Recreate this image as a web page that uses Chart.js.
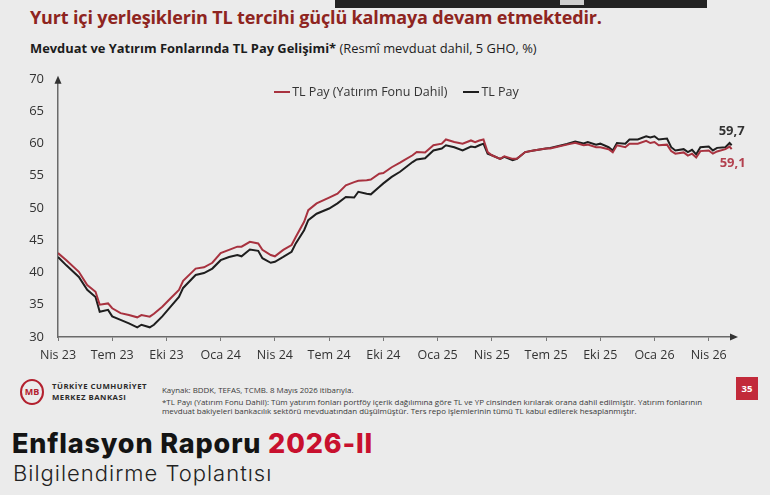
<!DOCTYPE html>
<html lang="tr">
<head>
<meta charset="utf-8">
<script src="https://cdn.jsdelivr.net/npm/chart.js@4.4.1/dist/chart.umd.min.js"></script>
<style>
  html, body { margin:0; padding:0; }
  body { width:770px; height:495px; overflow:hidden; position:relative;
         background:#ebebeb; font-family:'Open Sans', sans-serif; }
  .abs { position:absolute; white-space:nowrap; }
  #topbar { left:335px; top:0; width:372px; height:8px; background:#232323; }
  #topbar i { position:absolute; left:225px; top:0; width:24px; height:5px; background:#cfcfcf; }
  #title { left:30px; top:5px; font-size:18px; font-weight:700; color:#8e2420; letter-spacing:-0.15px; }
  #sub { left:30px; top:39px; font-size:12.9px; color:#1c1c1c; }
  #sub b { font-weight:700; }
  #chartWrap { left:0; top:57px; width:770px; height:313px; }
  #legend { left:0; top:83px; width:793px; text-align:center; font-size:12.5px; color:#333; }
  #legend span.it { display:inline-block; margin:0 8px; }
  #legend span.ln { display:inline-block; width:16px; height:2px; vertical-align:middle; margin-right:2px; position:relative; top:-1px; }
  #logo { left:20px; top:379px; width:20px; height:22px; border:2px solid #b3202e; border-radius:50%;
          color:#b3202e; font-size:9px; font-weight:700; text-align:center; line-height:22px; }
  #bank { left:52px; top:381px; font-size:7.8px; font-weight:700; color:#2a2a2a; line-height:11px; letter-spacing:0.5px; }
  #src { left:162px; top:385px; font-size:7.9px; color:#3a3a3a; }
  #note { left:162px; top:398px; font-size:7.95px; color:#3a3a3a; line-height:9px; }
  #page { left:736px; top:377px; width:22px; height:23px; background:#c22a3a; color:#fff;
          font-size:9.5px; font-weight:700; text-align:center; line-height:23px; }
  #er { left:12px; top:427px; font-family:Inter, sans-serif; font-size:27px; font-weight:800; color:#141414; letter-spacing:0.85px; }
  #er span { color:#c8102e; }
  #bt { left:13px; top:460px; font-family:Inter, sans-serif; font-size:22px; font-weight:300; color:#222; letter-spacing:1px; }
</style>
</head>
<body>
<div id="topbar" class="abs"><i></i></div>
<div id="title" class="abs">Yurt içi yerleşiklerin TL tercihi güçlü kalmaya devam etmektedir.</div>
<div id="sub" class="abs"><b>Mevduat ve Yatırım Fonlarında TL Pay Gelişimi*</b> (Resmî mevduat dahil, 5 GHO, %)</div>
<div id="chartWrap" class="abs"><canvas id="c" width="770" height="313"></canvas></div>
<div id="legend" class="abs"></div>
<div id="logo" class="abs">MB</div>
<div id="bank" class="abs">TÜRKİYE CUMHURİYET<br>MERKEZ BANKASI</div>
<div id="src" class="abs">Kaynak: BDDK, TEFAS, TCMB. 8 Mayıs 2026 itibarıyla.</div>
<div id="note" class="abs">*TL Payı (Yatırım Fonu Dahil): Tüm yatırım fonları portföy içerik dağılımına göre TL ve YP cinsinden kırılarak orana dahil edilmiştir. Yatırım fonlarının<br>mevduat bakiyeleri bankacılık sektörü mevduatından düşülmüştür. Ters repo işlemlerinin tümü TL kabul edilerek hesaplanmıştır.</div>
<div id="page" class="abs">35</div>
<div id="er" class="abs">Enflasyon Raporu <span>2026-II</span></div>
<div id="bt" class="abs">Bilgilendirme Toplantısı</div>

<script>
// weeks since early April 2023
const weeks = [0,2,5,7,9,10,12,13,15,17,19,20,22,23,25,27,29,30,33,35,37,39,41,43,44,46,48,49,51,52,54,56,57,59,60,62,65,67,69,71,72,74,75,77,78,80,82,83,85,86,88,90,92,93,95,97,99,100,101,102,103,104,106,107,109,110,112,114,117,118,120,122,124,126,127,129,130,132,133,134,136,137,139,141,142,143,144,146,147,148,150,151,152,153,154,156,157,158,160,161,161.5];

// TL Pay (Yatırım Fonu Dahil)
const tlPayFund = [43.0,41.9,40.1,38.05,37.0,35.0,35.2,34.45,33.7,33.4,33.05,33.4,33.15,33.6,34.7,36.0,37.3,38.7,40.6,40.8,41.5,43.0,43.5,44.0,44.0,44.75,44.5,43.5,42.7,42.5,43.5,44.25,45.5,47.85,49.65,50.7,51.6,52.2,53.5,54.0,54.2,54.3,54.4,55.3,55.4,56.3,57.0,57.4,58.15,58.65,58.6,59.7,59.95,60.6,60.2,59.95,60.45,60.2,60.45,60.6,58.65,58.15,57.6,58.0,57.6,57.6,58.65,58.9,59.2,59.2,59.5,59.8,60.1,59.7,59.8,59.4,59.4,59.1,58.6,59.7,59.4,59.95,59.95,60.4,60.05,60.2,59.7,59.8,58.8,58.4,58.6,58.1,58.4,57.8,58.8,58.9,58.4,58.75,59.1,59.5,59.1];

// TL Pay
const tlPay = [42.4,41.1,39.3,37.3,36.2,33.9,34.2,33.2,32.65,32.1,31.5,31.9,31.5,31.9,33.2,34.7,36.2,37.6,39.6,39.9,40.6,41.9,42.4,42.7,42.5,43.55,43.35,42.2,41.5,41.65,42.4,43.2,44.5,46.55,48.1,49.1,49.9,50.7,51.7,51.6,52.5,52.2,52.1,53.25,53.8,54.8,55.6,56.1,57.1,57.5,57.7,58.9,59.2,59.7,59.4,58.9,59.5,59.4,59.7,59.95,58.4,58.15,57.6,57.9,57.4,57.6,58.65,58.9,59.2,59.3,59.6,59.9,60.3,60.0,60.2,59.8,59.95,59.4,58.9,60.05,59.95,60.6,60.6,61.1,60.9,61.1,60.6,60.75,59.4,58.9,59.1,58.65,59.0,58.3,59.4,59.5,58.9,59.3,59.4,60.05,59.7];

const tickLabels = ['Nis 23','Tem 23','Eki 23','Oca 24','Nis 24','Tem 24','Eki 24','Oca 25','Nis 25','Tem 25','Eki 25','Oca 26','Nis 26'];
const tickWeeks = [0,13,26,39,52,65,78,91,104,117,130,143,156];
const seriesNames = ['TL Pay (Yatırım Fonu Dahil)','TL Pay'];
const seriesColors = ['#a8323f','#1e1e1e'];

const toXY = (arr) => arr.map((v,i) => ({x: weeks[i], y: v}));

// legend
const lg = document.getElementById('legend');
seriesNames.forEach((n,i) => {
  const s = document.createElement('span'); s.className='it';
  const l = document.createElement('span'); l.className='ln'; l.style.background = seriesColors[i];
  s.appendChild(l); s.appendChild(document.createTextNode(n)); lg.appendChild(s);
});

const arrows = {
  id:'arrows',
  afterDraw(chart){
    const {ctx, chartArea:a} = chart;
    ctx.save(); ctx.fillStyle = '#333';
    ctx.beginPath(); ctx.moveTo(a.left, a.top-3); ctx.lineTo(a.left-3.5, a.top+5); ctx.lineTo(a.left+3.5, a.top+5); ctx.closePath(); ctx.fill();
    ctx.beginPath(); ctx.moveTo(a.right+3, a.bottom); ctx.lineTo(a.right-5, a.bottom-3.5); ctx.lineTo(a.right-5, a.bottom+3.5); ctx.closePath(); ctx.fill();
    ctx.restore();
  }
};
const endLabels = {
  id:'endLabels',
  afterDatasetsDraw(chart){
    const {ctx} = chart;
    ctx.save();
    ctx.font = 'bold 13px "Open Sans"'; ctx.textAlign='center'; ctx.textBaseline='middle';
    const m1 = chart.getDatasetMeta(1); const p1 = m1.data[m1.data.length-1];
    ctx.fillStyle = '#333'; ctx.fillText(tlPay[tlPay.length-1].toFixed(1).replace('.',','), p1.x, p1.y-14);
    const m0 = chart.getDatasetMeta(0); const p0 = m0.data[m0.data.length-1];
    ctx.fillStyle = '#b3414f'; ctx.fillText(tlPayFund[tlPayFund.length-1].toFixed(1).replace('.',','), p0.x+1, p0.y+14);
    ctx.restore();
  }
};

new Chart(document.getElementById('c'), {
  type:'line',
  data:{ datasets:[
    {label:seriesNames[0], data:toXY(tlPayFund), borderColor:seriesColors[0], borderWidth:2, pointRadius:0, tension:0, fill:false},
    {label:seriesNames[1], data:toXY(tlPay), borderColor:seriesColors[1], borderWidth:2, pointRadius:0, tension:0, fill:false}
  ]},
  options:{
    responsive:false, animation:false, events:[],
    layout:{ padding:{ top:8, right:35, left:0, bottom:0 } },
    plugins:{ legend:{display:false}, tooltip:{enabled:false} },
    scales:{
      x:{ type:'linear', min:0, max:162.3,
          afterBuildTicks(s){ s.ticks = tickWeeks.map(v => ({value:v})); },
          afterFit(s){ s.height = 33; },
          ticks:{ autoSkip:false, maxRotation:0, padding:7, color:'#333', font:{family:'Open Sans', size:12.5},
                  callback:(v) => { const k = tickWeeks.indexOf(v); return k>=0 ? tickLabels[k] : ''; } },
          grid:{ display:true, drawOnChartArea:false, drawTicks:true, tickLength:4, color:'#777', lineWidth:1 },
          border:{ display:true, color:'#6a6a6a', width:1.5 } },
      y:{ min:30, max:70,
          afterFit(s){ s.width = 58; },
          ticks:{ stepSize:5, padding:14, color:'#333', font:{family:'Open Sans', size:13} },
          grid:{ display:false, drawTicks:false },
          border:{ display:true, color:'#6a6a6a', width:1.5 } }
    }
  },
  plugins:[arrows, endLabels]
});
</script>
</body>
</html>
